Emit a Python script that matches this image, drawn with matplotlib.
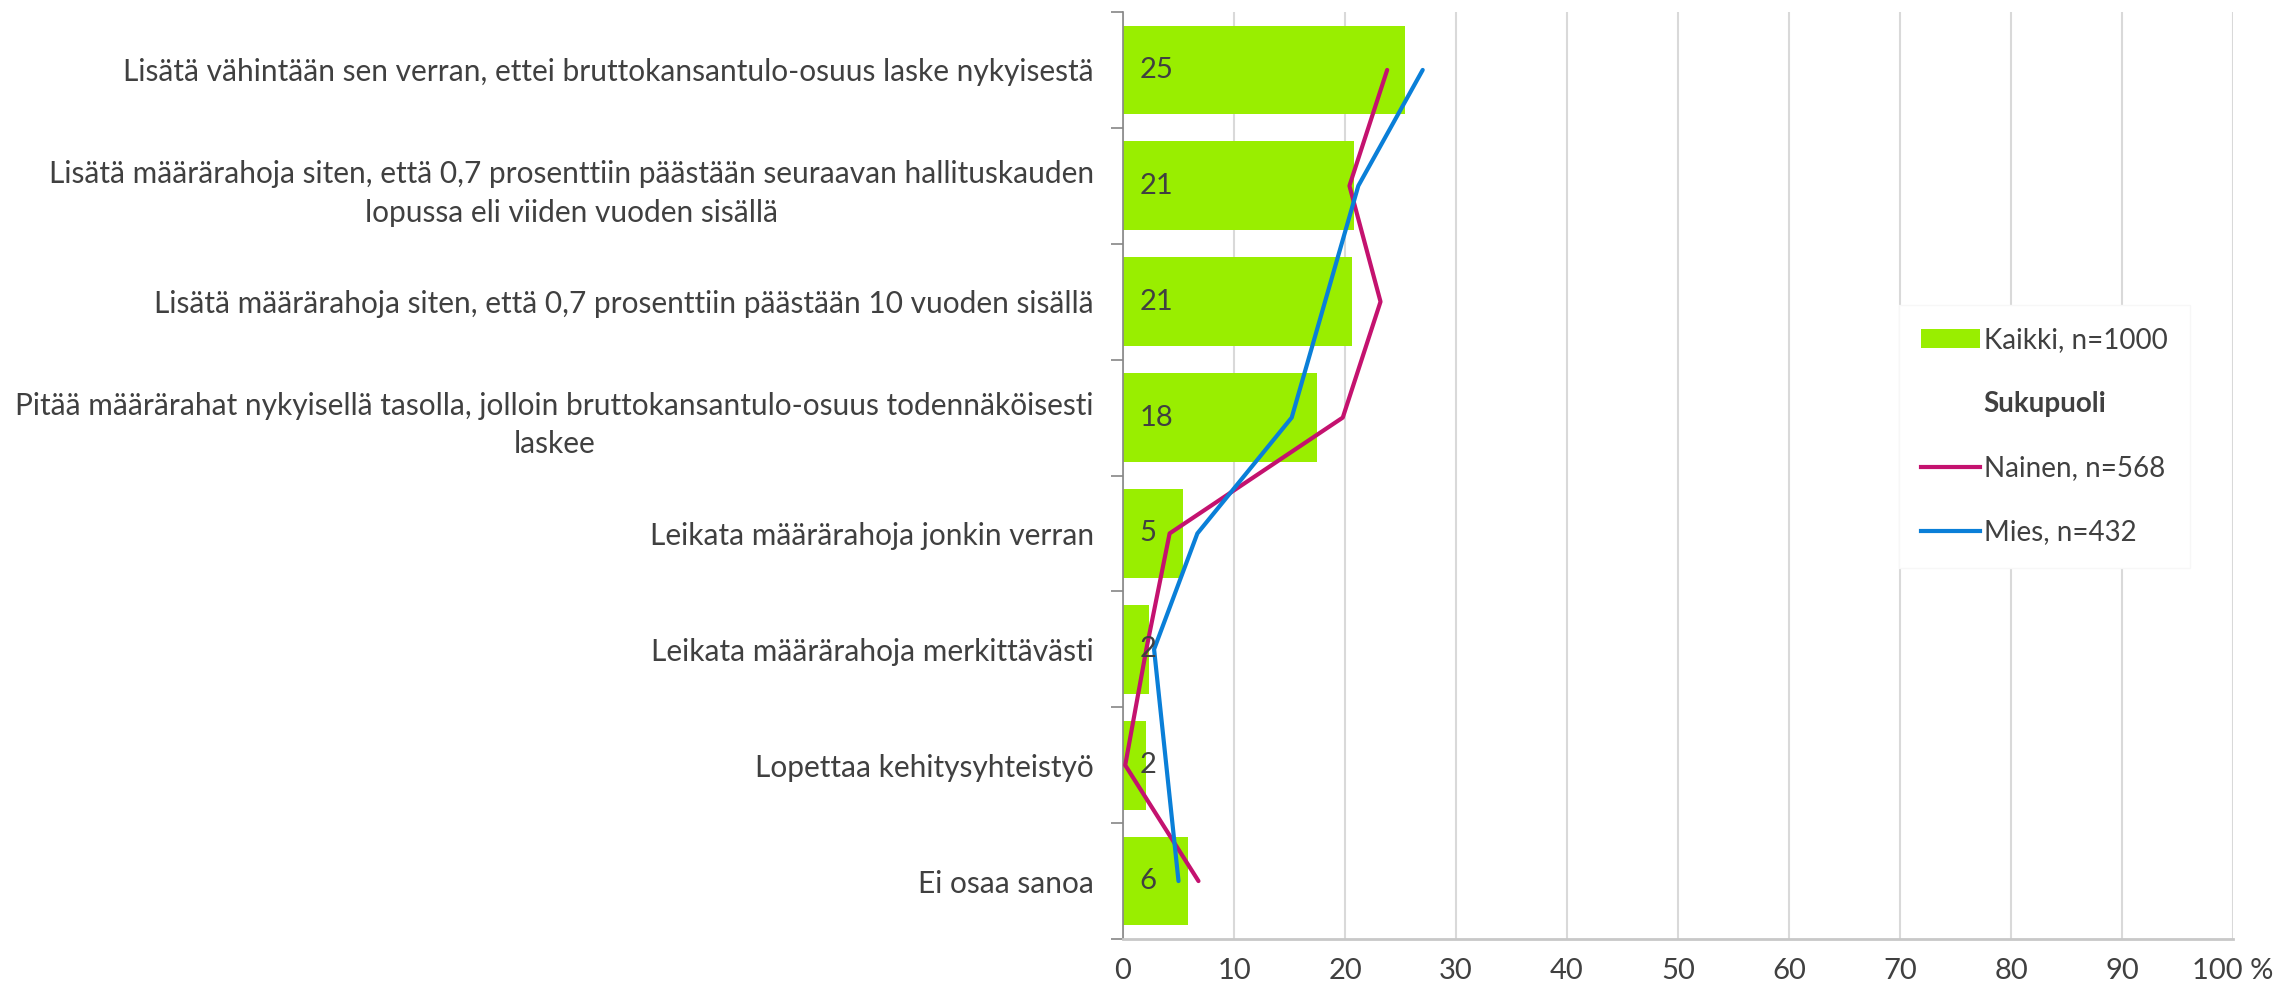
import matplotlib.pyplot as plt
import numpy as np
from matplotlib.patches import Patch
from matplotlib.lines import Line2D

# vastausvaihtoehdot ylhäältä alas
categories = [
    "Lisätä vähintään sen verran, ettei bruttokansantulo-osuus laske nykyisestä",
    "Lisätä määrärahoja siten, että 0,7 prosenttiin päästään seuraavan hallituskauden\nlopussa eli viiden vuoden sisällä",
    "Lisätä määrärahoja siten, että 0,7 prosenttiin päästään 10 vuoden sisällä",
    "Pitää määrärahat nykyisellä tasolla, jolloin bruttokansantulo-osuus todennäköisesti\nlaskee",
    "Leikata määrärahoja jonkin verran",
    "Leikata määrärahoja merkittävästi",
    "Lopettaa kehitysyhteistyö",
    "Ei osaa sanoa",
]
kaikki = [25.4, 20.8, 20.6, 17.5, 5.4, 2.3, 2.1, 5.9]
nainen = [23.8, 20.4, 23.2, 19.8, 4.2, 2.1, 0.2, 6.8]
mies = [27.0, 21.2, 18.2, 15.2, 6.7, 2.8, 3.9, 5.0]
xticks = [0, 10, 20, 30, 40, 50, 60, 70, 80, 90, 100]
xticklabels = ["0", "10", "20", "30", "40", "50", "60", "70", "80", "90", "100 %"]

GREEN = "#99ee00"
MAGENTA = "#c4126f"
BLUE = "#0a7fd8"
TXT = "#404040"

plt.rcParams["font.family"] = ["Lato", "DejaVu Sans"]
plt.rcParams["font.size"] = 20

fig = plt.figure(figsize=(22.93, 9.94), dpi=100)
ax = fig.add_axes([1123 / 2293, 55 / 994, 1110 / 2293, 927 / 994])

y = np.arange(len(categories))
ax.barh(y, kaikki, height=0.765, color=GREEN, zorder=2)
ax.plot(nainen, y, color=MAGENTA, lw=3, zorder=3, solid_capstyle="round")
ax.plot(mies, y, color=BLUE, lw=3, zorder=3, solid_capstyle="round")

for yi, v in zip(y, kaikki):
    ax.annotate(f"{v:.0f}", xy=(0, yi), xytext=(12, 0), textcoords="offset points",
                ha="left", va="center", color=TXT, fontsize=21, zorder=4)

ax.set_xlim(0, 100)
ax.set_ylim(len(categories) - 0.5, -0.5)
ax.set_xticks(xticks)
ax.set_xticklabels(xticklabels, color=TXT, fontsize=21)
ax.tick_params(axis="x", length=0, pad=14)

ax.set_yticks(y)
ax.set_yticklabels(categories, color=TXT, fontsize=21.5, multialignment="center", linespacing=1.45)
ax.set_yticks(np.arange(len(categories) + 1) - 0.5, minor=True)
ax.tick_params(axis="y", which="major", length=0, pad=21)
ax.tick_params(axis="y", which="minor", length=9, color="#868686", width=1.2)

ax.grid(axis="x", color="#d9d9d9", lw=1.5, zorder=0)
ax.set_axisbelow(True)
for s in ["top", "right"]:
    ax.spines[s].set_visible(False)
ax.spines["left"].set_color("#868686")
ax.spines["left"].set_linewidth(1.2)
ax.spines["bottom"].set_color("#c8c8c8")
ax.spines["bottom"].set_linewidth(2)

handles = [
    Patch(facecolor=GREEN),
    Line2D([], [], color="none"),
    Line2D([], [], color=MAGENTA, lw=3),
    Line2D([], [], color=BLUE, lw=3),
]
labels = ["Kaikki, n=1000", "Sukupuoli", "Nainen, n=568", "Mies, n=432"]
leg = ax.legend(handles, labels, loc="upper left",
                bbox_to_anchor=(1899 / 2293, 1 - 305 / 994), bbox_transform=fig.transFigure,
                frameon=True, fancybox=False, framealpha=1, edgecolor="#f7f7f7",
                fontsize=20, labelspacing=1.37, handlelength=2.1, handletextpad=0.15,
                borderpad=0.8, borderaxespad=0)
for t in leg.get_texts():
    t.set_color(TXT)
leg.get_texts()[1].set_fontweight("bold")
leg.set_zorder(5)

fig.savefig("out.png", dpi=100, facecolor="white")
